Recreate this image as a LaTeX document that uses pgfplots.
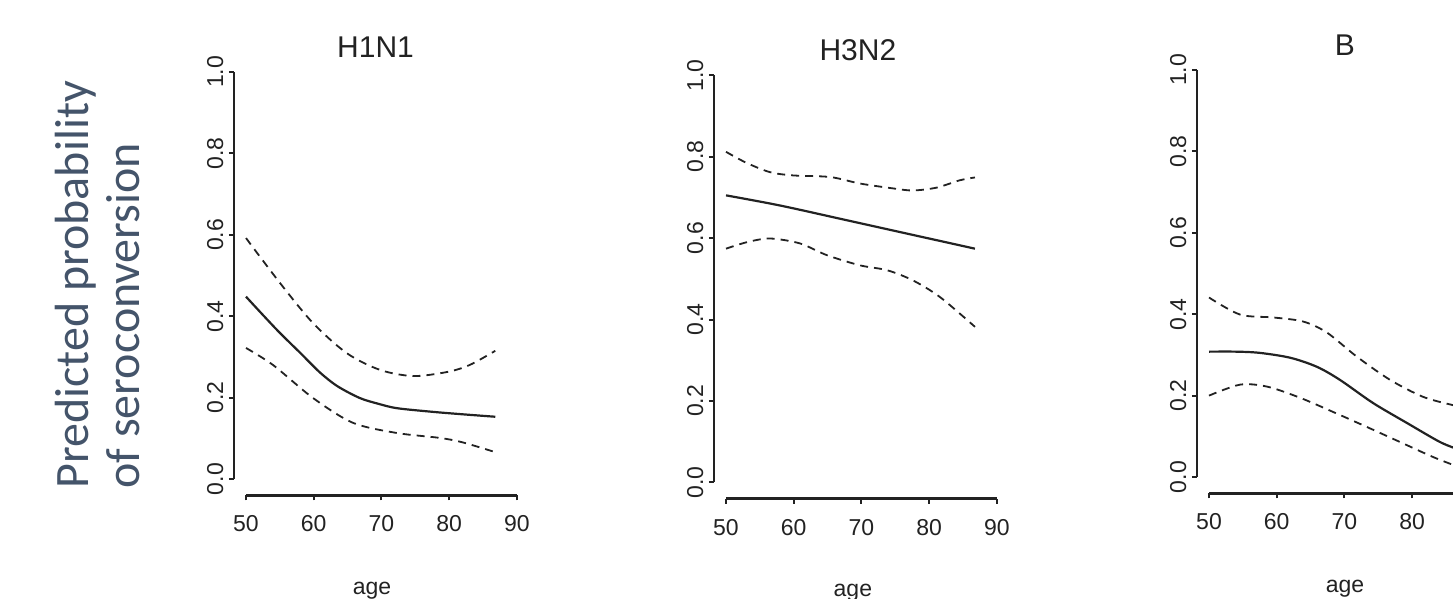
\documentclass[border=0pt]{standalone}
\usepackage{pgfplots}
\pgfplotsset{compat=1.18}
\usepackage{fontspec}
\setmainfont{Liberation Sans}
\newfontfamily\calibri{Carlito}
\definecolor{labelblue}{HTML}{44546A}
\definecolor{ink}{HTML}{222222}

% R-style panel: detached axes, rotated y tick labels
\pgfplotsset{
  rpanel/.style={
    scale only axis, width=147bp, height=219.8bp,
    xmin=48.2, xmax=91.6, ymin=-0.04, ymax=1.04,
    axis x line*=bottom, axis y line*=left,
    axis line style={line width=1.2bp, draw=ink},
    x axis line style={-, shorten <=6.1bp, shorten >=5.42bp},
    y axis line style={-, shorten <=8.14bp, shorten >=8.14bp},
    xtick={50,60,70,80,90}, ytick={0,0.2,0.4,0.6,0.8,1},
    tick align=outside, major tick length=2.5bp,
    tick style={line width=1bp, draw=ink},
    tick label style={font=\fontsize{11.5bp}{13bp}\selectfont, text=ink},
    /pgf/number format/assume math mode=true,
    yticklabel style={rotate=90, anchor=south, inner sep=0pt,
      /pgf/number format/.cd, fixed, fixed zerofill, precision=1},
    xticklabel style={anchor=north, inner sep=0pt},
    yticklabel shift=2.5bp, xticklabel shift=7.5bp,
    title style={anchor=base, yshift=-6pt, font=\fontsize{15bp}{17bp}\selectfont, text=ink},
    xlabel style={anchor=base, font=\fontsize{11.5bp}{13bp}\selectfont, text=ink},
    xlabel={age},
  },
  fit/.style={draw=ink, line width=1.1bp, smooth, tension=0.5},
  ci/.style={draw=ink, smooth, tension=0.5, dash pattern=on 4bp off 3bp, line width=0.9bp},
}

\begin{document}
\begin{tikzpicture}
\useasboundingbox (0,-299.5bp) rectangle (726.5bp,0);
\clip (0,-299.5bp) rectangle (726.5bp,0);

\node[rotate=90, anchor=base west, inner sep=0pt, text=labelblue,
  font=\calibri\fontsize{24bp}{28bp}\selectfont] at (44bp,-244.5bp) {Predicted probability};
\node[rotate=90, anchor=base west, inner sep=0pt, text=labelblue,
  font=\calibri\fontsize{24bp}{28bp}\selectfont] at (69.5bp,-244.5bp) {of seroconversion};

% H1N1
\begin{axis}[rpanel, at={(116.9bp,-247.65bp)}, anchor=south west,
  title={H1N1}, title style={at={(axis description cs:0.482,0.997)}},
  xlabel style={at={(axis description cs:0.47,-0.2246)}}]
\addplot[fit] coordinates {(50,0.448) (52.5,0.403) (55,0.359) (58,0.31) (60.9,0.262) (63.5,0.228) (66.8,0.199) (69.5,0.185) (72.3,0.174) (77.6,0.165) (82,0.159) (86.8,0.153)};
\addplot[ci] coordinates {(50,0.592) (55,0.482) (59.9,0.383) (64.9,0.309) (69.8,0.268) (74.7,0.253) (79.7,0.263) (83,0.28) (86.8,0.315)};
\addplot[ci] coordinates {(50,0.322) (54,0.280) (59.9,0.199) (65.8,0.138) (72.3,0.113) (78.6,0.101) (82,0.09) (86.8,0.066)};
\end{axis}

% H3N2
\begin{axis}[rpanel, at={(356.9bp,-249.3bp)}, anchor=south west,
  title={H3N2}, title style={at={(axis description cs:0.49,0.997)}},
  xlabel style={at={(axis description cs:0.473,-0.222)}}]
\addplot[fit] coordinates {(50,0.705) (58,0.68) (67.8,0.644) (77,0.61) (86.75,0.574)};
\addplot[ci] coordinates {(50,0.812) (53,0.785) (56.5,0.762) (59.9,0.754) (65.4,0.750) (69.8,0.734) (74.7,0.722) (77.6,0.717) (81.1,0.724) (84.5,0.742) (86.75,0.749)};
\addplot[ci] coordinates {(50,0.574) (53.1,0.590) (56.5,0.599) (60.9,0.587) (64.9,0.558) (69.8,0.533) (73.8,0.521) (77.6,0.496) (81.6,0.455) (86.75,0.382)};
\end{axis}

% B (cut at the right edge, as in the reference)
\begin{axis}[rpanel, at={(598.4bp,-246.65bp)}, anchor=south west,
  xtick={50,60,70,80},
  title={B}, title style={at={(axis description cs:0.504,0.997)}},
  xlabel style={at={(axis description cs:0.504,-0.2246)}}]
\addplot[fit] coordinates {(50,0.308) (54,0.308) (57.5,0.305) (62,0.293) (65.9,0.271) (69.3,0.239) (74.2,0.182) (79.2,0.133) (84.1,0.086) (86.8,0.068)};
\addplot[ci] coordinates {(50,0.441) (54.6,0.399) (59.5,0.392) (63.9,0.382) (67.4,0.355) (71.8,0.296) (76.7,0.239) (81.6,0.197) (85.9,0.177) (86.8,0.174)};
\addplot[ci] coordinates {(50,0.2) (54.6,0.227) (58.6,0.222) (63.4,0.195) (68.3,0.16) (73.3,0.123) (78.2,0.086) (83.1,0.049) (86.8,0.025)};
\end{axis}
\end{tikzpicture}
\end{document}
